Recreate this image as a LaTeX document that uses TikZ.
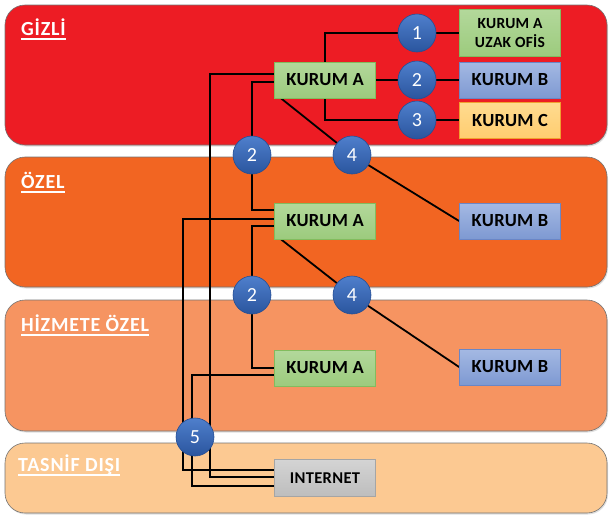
\documentclass[tikz,border=0pt]{standalone}
\usepackage{fontspec}
\setmainfont{Carlito}
\newfontfamily\boxfont[LetterSpace=2]{Carlito}
\newfontfamily\labfont[LetterSpace=4]{Carlito}
\usetikzlibrary{shadows}
\definecolor{bandRed}{HTML}{ED1C24}
\definecolor{bandOrange}{HTML}{F26522}
\definecolor{bandSalmon}{HTML}{F69461}
\definecolor{bandPeach}{HTML}{FCC992}
\definecolor{grnT}{HTML}{B3D89B}
\definecolor{grnBo}{HTML}{9CCB7D}
\definecolor{grnD}{HTML}{82BC5E}
\definecolor{bluT}{HTML}{A4B9E3}
\definecolor{bluBo}{HTML}{7E99D2}
\definecolor{bluD}{HTML}{6A86C6}
\definecolor{yelT}{HTML}{FFDB90}
\definecolor{yelBo}{HTML}{FFCD70}
\definecolor{yelD}{HTML}{F0A030}
\definecolor{gryT}{HTML}{D4D4D4}
\definecolor{gryBo}{HTML}{BDBDBD}
\definecolor{gryD}{HTML}{A5A5A5}
\definecolor{cirT}{HTML}{4F7FCC}
\definecolor{cirBo}{HTML}{2A559E}
\definecolor{cirD}{HTML}{254E94}
\newcommand\myul[1]{\setbox0\hbox{#1}\rlap{\rule[-4.5pt]{\wd0}{1.6pt}}\box0}
\pgfdeclarelayer{bandlayer}
\pgfdeclarelayer{linelayer}
\pgfsetlayers{bandlayer,linelayer,main}
\tikzset{
  band/.style={rectangle, draw=black!55, line width=0.6pt, rounded corners=20pt,
    minimum width=602pt, inner sep=0pt,
    drop shadow={opacity=0.25, shadow xshift=1pt, shadow yshift=-1.5pt}},
  bandlabel/.style={anchor=base west, inner sep=0pt, text=white,
    font=\labfont\bfseries\fontsize{20}{22}\selectfont},
  box/.style={rectangle, minimum width=101pt, minimum height=36pt, inner sep=0pt,
    line width=0.8pt, align=center, font=\boxfont\bfseries\fontsize{18.5}{19}\selectfont},
  greenbox/.style={box, draw=grnD, top color=grnT, bottom color=grnBo},
  bluebox/.style={box, draw=bluD, top color=bluT, bottom color=bluBo},
  yellowbox/.style={box, draw=yelD, top color=yelT, bottom color=yelBo},
  graybox/.style={box, draw=gryD, top color=gryT, bottom color=gryBo,
    font=\boxfont\bfseries\fontsize{16.5}{17}\selectfont},
  circ/.style={circle, minimum size=38pt, inner sep=0pt, draw=cirD, line width=0.6pt,
    top color=cirT, bottom color=cirBo, text=white, font=\fontsize{20}{20}\selectfont},
  conn/.style={draw=black, line width=1.8pt}
}
\begin{document}
\begin{tikzpicture}[x=1pt, y=-1pt]
\useasboundingbox (0,0) rectangle (609,515);
\begin{pgfonlayer}{bandlayer}
\node[band, fill=bandRed, minimum height=140pt] (gizli) at (306,75) {};
\node[band, fill=bandOrange, minimum height=130pt] (ozel) at (306,222) {};
\node[band, fill=bandSalmon, minimum height=131pt] (hizmete) at (306,365.5) {};
\node[band, fill=bandPeach, minimum height=70pt] (tasnif) at (306,478) {};
\node[bandlabel] (lgizli) at (21,35) {\myul{GİZLİ}};
\node[bandlabel] (lozel) at (21,188.5) {\myul{ÖZEL}};
\node[bandlabel] (lhizmete) at (21,331.5) {\myul{HİZMETE ÖZEL}};
\node[bandlabel] (ltasnif) at (18,471.5) {\myul{TASNİF DIŞI}};
\end{pgfonlayer}

% boxes
\node[greenbox] (gA) at (325,80) {KURUM A};
\node[greenbox, minimum height=47pt, font=\boxfont\bfseries\fontsize{15.5}{19}\selectfont] (uzak) at (510,33) {KURUM A\\UZAK OFİS};
\node[bluebox] (gB) at (510,80) {KURUM B};
\node[yellowbox] (gC) at (510,120) {KURUM C};
\node[greenbox] (oA) at (325,221) {KURUM A};
\node[bluebox] (oB) at (510,221) {KURUM B};
\node[greenbox] (hA) at (325,368) {KURUM A};
\node[bluebox] (hB) at (510,367) {KURUM B};
\node[graybox, minimum height=37pt] (net) at (325,478) {INTERNET};

% circles
\node[circ] (c1) at (417,33) {1};
\node[circ] (c2) at (417,80) {2};
\node[circ] (c3) at (417,120) {3};
\node[circ] (c2a) at (252,155) {2};
\node[circ] (c4a) at (352,155) {4};
\node[circ] (c2b) at (252,295) {2};
\node[circ] (c4b) at (352,295) {4};
\node[circ] (c5) at (195,437) {5};

\begin{pgfonlayer}{linelayer}
\draw[conn] (gA.east) -- (c2) -- (gB.west);
\draw[conn] (gA.north) |- (c1) -- (uzak.west);
\draw[conn] (gA.south) |- (c3) -- (gC.west);
\draw[conn] ([yshift=6pt]gA.west) -- ++(-64,0) |- ([yshift=1pt]net.west);
\draw[conn] ([yshift=-2pt]gA.west) -| (c2a);
\draw[conn] ([xshift=7pt]gA.south west) -- (c4a) -- (oB.west);
\draw[conn] (c2a) |- ([yshift=11pt]oA.west);
\draw[conn] ([yshift=2pt]oA.west) -- ++(-91,0) |- ([yshift=8pt]net.west);
\draw[conn] ([yshift=-5pt]oA.west) -| (c2b);
\draw[conn] ([xshift=7pt]oA.south west) -- (c4b) -- (hB.west);
\draw[conn] (c2b) |- (hA.west);
\draw[conn] ([yshift=-7pt]hA.west) -- ++(-82,0) |- ([yshift=-8pt]net.west);
\end{pgfonlayer}
\end{tikzpicture}
\end{document}
